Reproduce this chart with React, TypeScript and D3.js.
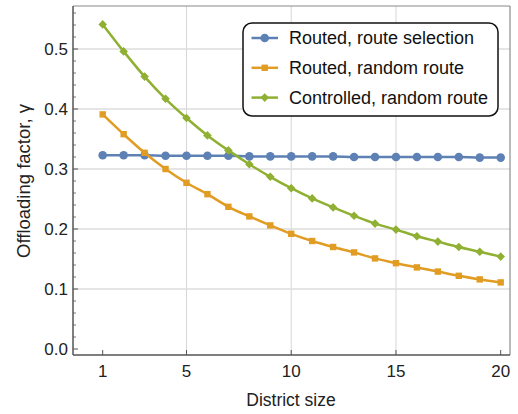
import React from 'react';
import * as d3 from 'd3';

const districtSizes = d3.range(1, 21);

const routeSelection = [0.323, 0.323, 0.323, 0.322, 0.322, 0.322, 0.322, 0.321, 0.321, 0.321, 0.321, 0.321, 0.320, 0.320, 0.320, 0.320, 0.320, 0.320, 0.319, 0.319];
const routedRandom = [0.391, 0.358, 0.327, 0.300, 0.277, 0.258, 0.237, 0.221, 0.206, 0.192, 0.180, 0.170, 0.161, 0.151, 0.143, 0.136, 0.129, 0.122, 0.116, 0.111];
const controlledRandom = [0.541, 0.496, 0.454, 0.417, 0.385, 0.356, 0.331, 0.308, 0.287, 0.268, 0.251, 0.236, 0.222, 0.209, 0.199, 0.188, 0.179, 0.170, 0.162, 0.154];

const xTicks = [1, 5, 10, 15, 20];
const yTicks = [0, 0.1, 0.2, 0.3, 0.4, 0.5];
const xGrid = [5, 10, 15];
const yGrid = [0.1, 0.2, 0.3, 0.4, 0.5];

const seriesList = [
  { name: 'Routed, route selection', values: routeSelection, color: '#5E81B5', marker: 'circle' },
  { name: 'Routed, random route', values: routedRandom, color: '#E19C24', marker: 'square' },
  { name: 'Controlled, random route', values: controlledRandom, color: '#8FB032', marker: 'diamond' },
];

const W = 518;
const H = 414;
const left = 73, right = 510, top = 6, bottom = 355;

function Marker({ type, x, y, color }: { type: string; x: number; y: number; color: string }) {
  if (type === 'circle') return <circle cx={x} cy={y} r={4.3} fill={color} />;
  if (type === 'square') return <rect x={x - 3.2} y={y - 3.2} width={6.4} height={6.4} fill={color} />;
  return <path d={`M${x},${y - 4.3}L${x + 4.3},${y}L${x},${y + 4.3}L${x - 4.3},${y}Z`} fill={color} />;
}

export default function App() {
  const x = d3.scaleLinear().domain([1, 20]).range([102.7, 500.7]);
  const y = d3.scaleLinear().domain([0, 0.5]).range([349, 49]);

  const line = d3
    .line<number>()
    .x((_, i) => x(districtSizes[i]))
    .y((d) => y(d))
    .curve(d3.curveMonotoneX);

  const minorY = d3.range(0, 0.57, 0.02).filter((v) => Math.abs(v * 10 - Math.round(v * 10)) > 0.01);
  const font = '"Liberation Sans", Arial, sans-serif';
  const axisColor = '#555';

  return (
    <svg width={W} height={H} style={{ position: 'absolute', left: 0, top: 0, fontFamily: font }}>
      <rect width={W} height={H} fill="#fff" />
      {/* grid */}
      {xGrid.map((v) => (
        <line key={'gx' + v} x1={x(v)} x2={x(v)} y1={top} y2={bottom} stroke="#d6d6d6" strokeWidth={1} />
      ))}
      {yGrid.map((v) => (
        <line key={'gy' + v} x1={left} x2={right} y1={y(v)} y2={y(v)} stroke="#dcdcdc" strokeWidth={1.3} />
      ))}

      {/* frame */}
      <line x1={left} x2={right} y1={top} y2={top} stroke="#888" strokeWidth={1} />
      <line x1={right} x2={right} y1={top} y2={bottom} stroke="#777" strokeWidth={1} />
      <line x1={left} x2={left} y1={top} y2={bottom} stroke={axisColor} strokeWidth={1.5} />
      <line x1={left} x2={right} y1={bottom} y2={bottom} stroke={axisColor} strokeWidth={1.5} />

      {/* y ticks */}
      {yTicks.map((v) => (
        <g key={'yt' + v}>
          <line x1={left} x2={left + 5} y1={y(v)} y2={y(v)} stroke={axisColor} strokeWidth={1} />
          <text x={left - 5} y={y(v)} dy="0.35em" textAnchor="end" fontSize={17} fill="#222">
            {v.toFixed(1)}
          </text>
        </g>
      ))}
      {minorY.map((v) => (
        <line key={'ym' + v} x1={left} x2={left + 3} y1={y(v)} y2={y(v)} stroke={axisColor} strokeWidth={0.8} />
      ))}

      {/* x ticks */}
      {xTicks.map((v) => (
        <g key={'xt' + v}>
          <line x1={x(v)} x2={x(v)} y1={bottom} y2={bottom - 5} stroke={axisColor} strokeWidth={1} />
          <text x={x(v)} y={371} dy="0.35em" textAnchor="middle" fontSize={17} fill="#222">
            {v}
          </text>
        </g>
      ))}

      {/* axis labels */}
      <text x={291} y={406} textAnchor="middle" fontSize={17.5} fill="#222">
        District size
      </text>
      <text
        transform={`translate(24,181) rotate(-90)`}
        dy="0.35em"
        textAnchor="middle"
        fontSize={18.5}
        fill="#222"
      >
        Offloading factor, γ
      </text>

      {/* series */}
      {seriesList.map((s) => (
        <g key={s.name}>
          <path d={line(s.values) || ''} fill="none" stroke={s.color} strokeWidth={2.5} />
          {s.values.map((v, i) => (
            <Marker key={i} type={s.marker} x={x(districtSizes[i])} y={y(v)} color={s.color} />
          ))}
        </g>
      ))}

      {/* legend */}
      <rect x={243} y={23} width={255} height={93} rx={9} fill="#fff" stroke="#111" strokeWidth={1.5} />
      {seriesList.map((s, i) => {
        const ly = 38 + i * 29.8;
        return (
          <g key={'lg' + s.name}>
            <line x1={251.5} x2={278} y1={ly} y2={ly} stroke={s.color} strokeWidth={2.5} />
            <Marker type={s.marker} x={264.7} y={ly} color={s.color} />
            <text x={289} y={ly} dy="0.35em" fontSize={18} fill="#111">
              {s.name}
            </text>
          </g>
        );
      })}
    </svg>
  );
}
